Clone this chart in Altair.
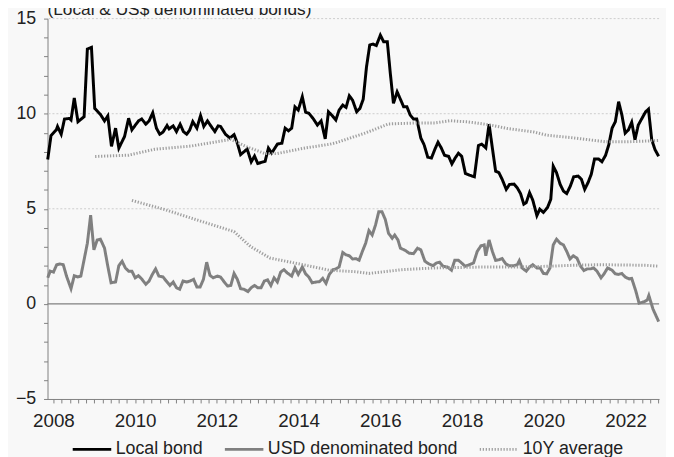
import altair as alt
import pandas as pd

title_text = "(Local & US$ denominated bonds)"
series_names = ["Local bond", "USD denominated bond", "10Y average"]

local_years = [2007.86, 2007.94, 2008.07, 2008.10, 2008.19, 2008.27, 2008.39, 2008.43, 2008.51, 2008.60,
               2008.75, 2008.83, 2008.93, 2009.01, 2009.15, 2009.25, 2009.33, 2009.42, 2009.52, 2009.60,
               2009.74, 2009.84, 2009.92, 2010.08, 2010.16, 2010.26, 2010.34, 2010.43, 2010.52, 2010.60,
               2010.68, 2010.78, 2010.83, 2010.93, 2011.01, 2011.10, 2011.18, 2011.26, 2011.33, 2011.41,
               2011.51, 2011.60, 2011.68, 2011.77, 2011.85, 2011.95, 2012.03, 2012.09, 2012.21, 2012.32,
               2012.42, 2012.50, 2012.58, 2012.74, 2012.84, 2012.92, 2013.00, 2013.18, 2013.26, 2013.34,
               2013.48, 2013.59, 2013.67, 2013.75, 2013.83, 2013.91, 2013.99, 2014.09, 2014.17, 2014.25,
               2014.35, 2014.46, 2014.55, 2014.65, 2014.73, 2014.82, 2014.91, 2014.99, 2015.08, 2015.16,
               2015.24, 2015.32, 2015.42, 2015.50, 2015.58, 2015.66, 2015.74, 2015.82, 2015.90, 2016.00,
               2016.08, 2016.17, 2016.24, 2016.32, 2016.41, 2016.49, 2016.57, 2016.65, 2016.73, 2016.81,
               2016.89, 2016.99, 2017.07, 2017.16, 2017.25, 2017.33, 2017.41, 2017.49, 2017.57, 2017.67,
               2017.75, 2017.83, 2017.91, 2017.99, 2018.08, 2018.18, 2018.30, 2018.40, 2018.48, 2018.58,
               2018.66, 2018.74, 2018.82, 2018.90, 2018.98, 2019.08, 2019.16, 2019.27, 2019.35, 2019.43,
               2019.51, 2019.57, 2019.65, 2019.73, 2019.83, 2019.90, 2019.99, 2020.09, 2020.17, 2020.23,
               2020.31, 2020.40, 2020.48, 2020.56, 2020.65, 2020.73, 2020.84, 2020.92, 2021.00, 2021.08,
               2021.16, 2021.24, 2021.34, 2021.42, 2021.51, 2021.59, 2021.67, 2021.75, 2021.83, 2021.91,
               2021.99, 2022.07, 2022.15, 2022.23, 2022.31, 2022.41, 2022.49, 2022.56, 2022.64, 2022.72,
               2022.81]
local_values = [7.59, 8.85, 9.15, 9.33, 8.92, 9.72, 9.75, 9.67, 10.83, 9.58,
                9.84, 13.40, 13.49, 10.28, 9.96, 9.62, 9.88, 8.28, 9.24, 8.19,
                8.80, 9.76, 9.15, 9.62, 9.72, 9.45, 9.62, 10.05, 9.24, 8.92,
                9.03, 9.38, 9.20, 9.36, 9.06, 9.45, 9.06, 8.92, 9.12, 9.58,
                9.24, 9.90, 9.33, 9.62, 9.36, 9.06, 9.36, 9.33, 8.92, 8.72,
                8.90, 8.45, 7.85, 8.14, 7.47, 7.77, 7.38, 7.50, 8.19, 7.93,
                8.40, 8.45, 9.24, 9.10, 9.24, 10.36, 10.19, 10.89, 10.08, 10.02,
                9.76, 9.40, 9.62, 8.68, 10.10, 9.90, 9.67, 10.19, 10.45, 10.33,
                10.94, 10.71, 10.10, 10.28, 10.76, 12.45, 13.61, 13.66, 13.58, 14.13,
                13.78, 13.78, 12.19, 10.54, 11.15, 10.76, 10.36, 10.36, 9.93, 9.72,
                9.72, 8.72, 8.37, 7.71, 7.67, 8.11, 8.50, 8.20, 7.81, 7.76,
                7.36, 7.67, 7.92, 7.76, 6.86, 6.77, 6.68, 8.33, 8.40, 8.20,
                9.45, 8.20, 6.98, 6.90, 6.55, 6.02, 6.28, 6.30, 6.10, 5.80,
                5.24, 5.33, 5.85, 5.45, 4.64, 4.98, 4.81, 5.07, 5.50, 7.24,
                6.90, 6.28, 5.93, 5.80, 6.20, 6.68, 6.72, 6.55, 6.02, 6.37,
                6.81, 7.62, 7.62, 7.47, 7.81, 8.37, 9.24, 9.58, 10.63, 9.93,
                8.98, 9.15, 9.55, 8.63, 9.40, 9.79, 10.10, 10.24, 8.63, 8.11,
                7.76]

usd_years = [2007.86, 2007.92, 2008.00, 2008.08, 2008.16, 2008.24, 2008.32, 2008.43, 2008.51, 2008.59,
             2008.67, 2008.75, 2008.83, 2008.91, 2008.99, 2009.07, 2009.15, 2009.25, 2009.33, 2009.41,
             2009.52, 2009.60, 2009.68, 2009.76, 2009.84, 2009.92, 2010.00, 2010.08, 2010.16, 2010.26,
             2010.34, 2010.42, 2010.50, 2010.58, 2010.68, 2010.76, 2010.85, 2010.93, 2011.01, 2011.09,
             2011.17, 2011.26, 2011.34, 2011.43, 2011.51, 2011.59, 2011.67, 2011.75, 2011.83, 2011.91,
             2012.01, 2012.09, 2012.18, 2012.26, 2012.34, 2012.42, 2012.50, 2012.58, 2012.66, 2012.76,
             2012.84, 2012.92, 2013.00, 2013.08, 2013.16, 2013.24, 2013.32, 2013.40, 2013.48, 2013.56,
             2013.64, 2013.72, 2013.83, 2013.91, 2013.99, 2014.09, 2014.17, 2014.25, 2014.33, 2014.43,
             2014.51, 2014.59, 2014.67, 2014.75, 2014.84, 2014.91, 2014.99, 2015.08, 2015.16, 2015.24,
             2015.32, 2015.40, 2015.48, 2015.56, 2015.64, 2015.72, 2015.80, 2015.88, 2015.96, 2016.04,
             2016.12, 2016.20, 2016.29, 2016.35, 2016.43, 2016.49, 2016.61, 2016.70, 2016.81, 2016.91,
             2016.99, 2017.09, 2017.19, 2017.29, 2017.37, 2017.45, 2017.53, 2017.64, 2017.74, 2017.82,
             2017.91, 2017.99, 2018.07, 2018.18, 2018.28, 2018.37, 2018.46, 2018.54, 2018.58, 2018.66,
             2018.74, 2018.82, 2018.90, 2018.98, 2019.07, 2019.15, 2019.27, 2019.35, 2019.40, 2019.47,
             2019.57, 2019.65, 2019.73, 2019.83, 2019.91, 2019.99, 2020.07, 2020.15, 2020.23, 2020.31,
             2020.40, 2020.48, 2020.56, 2020.64, 2020.72, 2020.81, 2020.89, 2020.98, 2021.06, 2021.14,
             2021.22, 2021.30, 2021.40, 2021.48, 2021.56, 2021.67, 2021.75, 2021.83, 2021.91, 2021.99,
             2022.09, 2022.15, 2022.25, 2022.33, 2022.45, 2022.53, 2022.57, 2022.67, 2022.81]
usd_values = [1.37, 1.72, 1.67, 2.06, 2.10, 2.06, 1.46, 0.80, 1.48, 1.42,
              1.46, 2.32, 3.19, 4.66, 2.84, 3.36, 3.40, 2.93, 1.98, 1.11,
              1.15, 2.01, 2.24, 1.89, 1.72, 1.72, 1.37, 1.48, 1.31, 1.03,
              1.20, 1.55, 1.84, 1.46, 1.42, 1.20, 0.97, 1.15, 0.85, 0.77,
              1.20, 1.15, 1.20, 1.29, 0.89, 0.89, 1.29, 2.19, 1.50, 1.37,
              1.46, 1.41, 1.15, 0.94, 0.97, 1.60, 1.29, 0.80, 0.77, 0.65,
              0.85, 0.97, 0.85, 0.85, 1.20, 1.26, 0.97, 1.37, 1.15, 1.67,
              1.80, 1.63, 1.46, 1.89, 1.55, 1.94, 1.58, 1.41, 1.11, 1.15,
              1.17, 1.34, 1.08, 1.55, 1.80, 1.84, 1.94, 2.70, 2.58, 2.53,
              2.36, 2.38, 2.30, 2.76, 3.19, 3.85, 3.62, 4.14, 4.84, 4.84,
              4.44, 3.71, 3.45, 3.62, 3.36, 2.93, 2.81, 2.67, 2.64, 2.93,
              2.84, 2.24, 2.10, 2.01, 2.15, 2.19, 1.98, 1.94, 1.77, 2.29,
              2.29, 2.15, 1.98, 2.06, 2.15, 2.76, 3.05, 3.10, 2.53, 3.36,
              2.76, 2.29, 2.32, 2.38, 2.10, 2.01, 2.01, 2.06, 2.27, 1.89,
              1.72, 1.94, 2.06, 1.89, 1.89, 1.60, 1.58, 1.89, 3.10, 3.40,
              3.19, 3.10, 2.76, 2.36, 2.53, 2.41, 2.01, 1.75, 1.84, 1.84,
              1.89, 1.72, 1.37, 1.60, 1.89, 1.77, 1.58, 1.55, 1.60, 1.41,
              1.31, 1.34, 0.68, 0.04, 0.11, 0.20, 0.44, -0.27, -0.93]

local_avg_years = [2009.02, 2009.84, 2010.48, 2011.37, 2012.34, 2012.74, 2013.18, 2013.46, 2014.11, 2014.75,
                   2014.91, 2015.40, 2015.64, 2016.20, 2016.85, 2017.33, 2017.70, 2018.14, 2018.66, 2019.11,
                   2019.75, 2020.07, 2020.72, 2021.52, 2022.01, 2022.49, 2022.81]
local_avg_values = [7.75, 7.82, 8.13, 8.30, 8.65, 8.25, 7.90, 7.90, 8.18, 8.39,
                    8.47, 8.82, 8.99, 9.46, 9.51, 9.51, 9.63, 9.57, 9.42, 9.22,
                    9.04, 8.87, 8.73, 8.52, 8.52, 8.56, 8.59]

usd_avg_years = [2009.92, 2010.72, 2011.53, 2012.42, 2012.82, 2013.30, 2014.11, 2014.75, 2015.40, 2015.72,
                 2016.53, 2017.33, 2018.54, 2019.35, 2020.15, 2020.72, 2021.36, 2022.49, 2022.81]
usd_avg_values = [5.44, 4.96, 4.40, 3.80, 3.02, 2.41, 2.06, 1.77, 1.69, 1.60,
                  1.80, 1.89, 1.94, 1.94, 1.98, 2.03, 2.06, 2.03, 1.98]

grid_levels = [5, 10, 15]
zero_level = [0]

rows = []
for yr, v in zip(usd_years, usd_values):
    rows.append({"year": yr, "value": v, "series": "USD denominated bond", "line": "b_usd"})
for yr, v in zip(local_years, local_values):
    rows.append({"year": yr, "value": v, "series": "Local bond", "line": "c_local"})
for yr, v in zip(local_avg_years, local_avg_values):
    rows.append({"year": yr, "value": v, "series": "10Y average", "line": "d_local_avg"})
for yr, v in zip(usd_avg_years, usd_avg_values):
    rows.append({"year": yr, "value": v, "series": "10Y average", "line": "e_usd_avg"})
df = pd.DataFrame(rows)

FONT = "Liberation Sans, Arial, sans-serif"
TXT = "#222222"
AX = "#808080"

x_scale = alt.Scale(domain=[2007.855, 2022.82], nice=False, zero=False)
y_scale = alt.Scale(domain=[-5, 15], nice=False, zero=False)
x_ticks = [round(2008 + 0.2 * k, 1) for k in range(75)]
y_ticks = list(range(-5, 16))

y_axis = alt.Axis(
    values=y_ticks, title=None, grid=False, tickSize=4, labelPadding=8,
    labelExpr="datum.value % 5 == 0 ? datum.label : ''",
    labelOverlap=False, domainColor=AX, tickColor=AX,
    labelFont=FONT, labelFontSize=18, labelColor=TXT)

x_axis = alt.Axis(
    values=x_ticks, title=None, grid=False, tickSize=4, labelPadding=9,
    labelExpr="abs(datum.value - round(datum.value / 2) * 2) < 0.01 ? format(datum.value, 'd') : ''",
    labelFlush=False, labelOverlap=False, domainColor=AX, tickColor=AX,
    labelFont=FONT, labelFontSize=19, labelColor=TXT)

legend = alt.Legend(
    title=None, orient="none", legendX=24, legendY=415, direction="horizontal",
    symbolType="stroke", symbolSize=1521, labelFont=FONT, labelFontSize=18, labelColor=TXT,
    labelOffset=3, columnPadding=15, padding=0, labelLimit=400,
)

lines = alt.Chart(df).mark_line().encode(
    x=alt.X("year:Q", scale=x_scale, axis=x_axis),
    y=alt.Y("value:Q", scale=y_scale, axis=y_axis),
    color=alt.Color("series:N", scale=alt.Scale(domain=series_names, range=["#000000", "#808080", "#a0a0a0"]), legend=legend),
    strokeDash=alt.StrokeDash("series:N", scale=alt.Scale(domain=series_names, range=[[1, 0], [1, 0], [1.3, 1.7]]), legend=legend),
    strokeWidth=alt.StrokeWidth("series:N", scale=alt.Scale(domain=series_names, range=[3, 3, 1.2]), legend=legend),
    detail="line:N",
)

grid = alt.Chart(pd.DataFrame({"value": grid_levels})).mark_rule(
    color="#cccccc", strokeDash=[2, 2], strokeWidth=1
).encode(y=alt.Y("value:Q", scale=y_scale, axis=y_axis))

zero = alt.Chart(pd.DataFrame({"value": zero_level})).mark_rule(
    color=AX, strokeWidth=1.3
).encode(y=alt.Y("value:Q", scale=y_scale, axis=y_axis))

title = alt.Chart(pd.DataFrame({"t": [title_text]})).mark_text(
    align="left", baseline="alphabetic", font=FONT, fontSize=17.5, color=TXT
).encode(text="t:N", x=alt.value(0), y=alt.value(-4))

chart = alt.layer(grid, zero, lines, title).properties(
    width=619, height=385,
    padding={"left": 40, "top": 8, "right": 7, "bottom": 56},
    autosize=alt.AutoSizeParams(type="none"),
    background="#f8f8f8",
).configure_view(stroke=None)

chart.save("out.html", embed_options={"renderer": "svg", "actions": False})
